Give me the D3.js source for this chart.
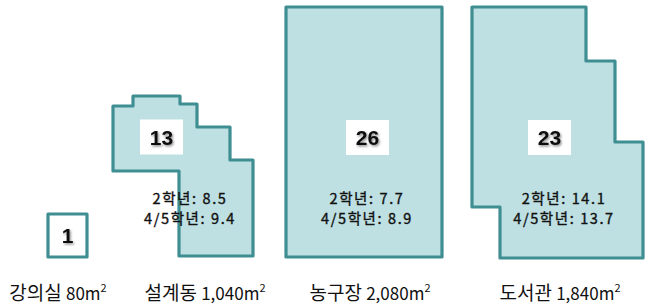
<!DOCTYPE html>
<html>
<head>
<meta charset="utf-8">
<script src="https://cdn.jsdelivr.net/npm/d3@7"></script>
<style>
  body { margin: 0; background: #fff; }
  svg { display: block; }
</style>
</head>
<body>
<div id="chart"></div>
<script>
// building data
var names = ["강의실", "설계동", "농구장", "도서관"];
var areas = ["80", "1,040", "2,080", "1,840"];
var counts = [1, 13, 26, 23];
var grade2 = [null, 8.5, 7.7, 14.1];
var grade45 = [null, 9.4, 8.9, 13.7];

// floor plan outlines (plan units)
var outlines = [
  [[48, 214], [87, 214], [87, 257], [48, 257]],
  [[113, 106], [133, 106], [133, 96], [180, 96], [180, 104], [197, 104], [197, 127],
   [230, 127], [230, 160], [253, 160], [253, 256], [179, 256], [179, 171], [113, 171]],
  [[286, 7], [442, 7], [442, 257], [286, 257]],
  [[472, 7], [586, 7], [586, 61], [615, 61], [615, 142], [643, 142], [643, 258],
   [500, 258], [500, 207], [472, 207]]
];
// anchor for count badge / grade text / name label (plan units)
var badgeAt = [[67.5, 235.5], [161.5, 137], [367.5, 137.5], [549.5, 137.5]];
var textAt = [null, [190, 198], [367, 198], [564, 198]];
var labelAt = [58, 205, 370, 560];

var width = 649, height = 308;

var x = d3.scaleLinear().domain([0, 649]).range([0, width]);
var y = d3.scaleLinear().domain([0, 308]).range([0, height]);

var svg = d3.select("#chart").append("svg")
  .attr("width", width)
  .attr("height", height);

var defs = svg.append("defs");
var f = defs.append("filter").attr("id", "shadow")
  .attr("x", "-20%").attr("y", "-20%").attr("width", "150%").attr("height", "150%");
f.append("feDropShadow")
  .attr("dx", 1.2).attr("dy", 1.5).attr("stdDeviation", 0.8)
  .attr("flood-color", "#000").attr("flood-opacity", 0.45);

var line = d3.line()
  .x(function (d) { return x(d[0]); })
  .y(function (d) { return y(d[1]); })
  .curve(d3.curveLinearClosed);

var data = names.map(function (n, i) {
  return { name: n, area: areas[i], count: counts[i], g2: grade2[i], g45: grade45[i],
           outline: outlines[i], badge: badgeAt[i], text: textAt[i], label: labelAt[i] };
});

var g = svg.selectAll("g.bld").data(data).enter().append("g").attr("class", "bld");

g.append("path")
  .attr("d", function (d) { return line(d.outline); })
  .attr("fill", function (d, i) { return i === 0 ? "#ffffff" : "#bee0e3"; })
  .attr("stroke", "#3e8e92")
  .attr("stroke-width", 3.2)
  .attr("stroke-linejoin", "round");

// white badge behind count
g.filter(function (d, i) { return i > 0; }).append("rect")
  .attr("x", function (d) { return x(d.badge[0]) - 21.5; })
  .attr("y", function (d) { return y(d.badge[1]) - 17.5; })
  .attr("width", 43)
  .attr("height", 35)
  .attr("fill", "#fff");

g.append("text")
  .attr("x", function (d) { return x(d.badge[0]); })
  .attr("y", function (d) { return y(d.badge[1]) + 7.5; })
  .attr("text-anchor", "middle")
  .attr("font-family", "Liberation Sans, Arial, sans-serif")
  .attr("font-weight", "bold")
  .attr("font-size", 21)
  .attr("fill", "#111")
  .attr("filter", "url(#shadow)")
  .text(function (d) { return d.count; });

var tg = g.filter(function (d) { return d.text; });
[["2학년: ", "g2", 5.5], ["4/5학년: ", "g45", 26]].forEach(function (row) {
  tg.append("text")
    .attr("x", function (d) { return x(d.text[0]); })
    .attr("y", function (d) { return y(d.text[1]) + row[2]; })
    .attr("text-anchor", "middle")
    .attr("font-family", "Noto Sans CJK KR, sans-serif")
    .attr("font-size", 14.5)
    .attr("letter-spacing", 1.6)
    .attr("fill", "#111")
    .attr("stroke", "#111")
    .attr("stroke-width", 0.35)
    .text(function (d) { return row[0] + d[row[1]]; });
});

// name + area labels
var lab = g.append("text")
  .attr("x", function (d) { return x(d.label); })
  .attr("y", y(300))
  .attr("text-anchor", "middle")
  .attr("font-family", "Noto Sans CJK KR, sans-serif")
  .attr("font-size", 19)
  .attr("fill", "#111");
lab.append("tspan").text(function (d) { return d.name + " "; });
lab.append("tspan").attr("font-size", 17).text(function (d) { return d.area + "m"; });
lab.append("tspan").attr("font-size", 11).attr("dy", -8).text("2");
</script>
</body>
</html>
